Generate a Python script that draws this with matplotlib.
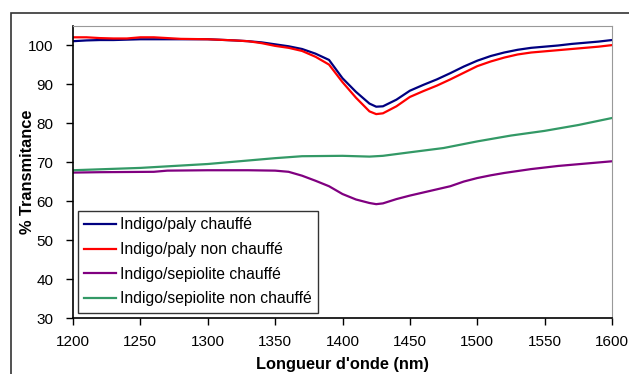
import matplotlib.pyplot as plt
from matplotlib.patches import Rectangle

plt.rcParams["font.family"] = ["Liberation Sans", "DejaVu Sans"]

wl_paly = [1200, 1210, 1220, 1230, 1240, 1250, 1260, 1270, 1280, 1300, 1320, 1330, 1340,
           1350, 1360, 1370, 1380, 1390, 1400, 1410, 1420, 1425, 1430, 1440, 1450, 1460,
           1470, 1480, 1490, 1500, 1510, 1520, 1530, 1540, 1550, 1560, 1570, 1580, 1590, 1600]
paly_chauffe = [101.0, 101.2, 101.3, 101.3, 101.4, 101.5, 101.5, 101.5, 101.5, 101.5, 101.2,
                101.0, 100.7, 100.2, 99.7, 99.0, 97.8, 96.2, 91.5, 88.0, 85.0, 84.2, 84.3,
                86.0, 88.3, 89.8, 91.2, 92.8, 94.5, 96.0, 97.2, 98.1, 98.8, 99.3, 99.6, 99.9,
                100.3, 100.6, 100.9, 101.3]
paly_non_chauffe = [102.0, 102.0, 101.8, 101.7, 101.7, 102.0, 102.0, 101.8, 101.6, 101.5,
                    101.2, 101.0, 100.5, 99.8, 99.3, 98.5, 97.0, 95.0, 90.5, 86.5, 83.0, 82.3,
                    82.5, 84.3, 86.7, 88.2, 89.6, 91.2, 92.9, 94.6, 95.8, 96.8, 97.6, 98.1,
                    98.4, 98.7, 99.0, 99.3, 99.6, 100.0]

wl_sep = [1200, 1220, 1260, 1270, 1300, 1330, 1350, 1360, 1370, 1380, 1390, 1400, 1410,
          1420, 1425, 1430, 1440, 1450, 1460, 1470, 1480, 1490, 1500, 1510, 1520, 1530,
          1540, 1550, 1560, 1570, 1580, 1590, 1600]
sep_chauffe = [67.3, 67.4, 67.5, 67.8, 67.9, 67.9, 67.8, 67.5, 66.5, 65.2, 63.8, 61.8, 60.4,
               59.5, 59.2, 59.4, 60.5, 61.4, 62.2, 63.0, 63.8, 65.0, 65.9, 66.6, 67.2, 67.7,
               68.2, 68.6, 69.0, 69.3, 69.6, 69.9, 70.2]

wl_sep_nc = [1200, 1250, 1300, 1350, 1370, 1400, 1420, 1430, 1450, 1475, 1500, 1525, 1550,
             1575, 1600]
sep_non_chauffe = [67.9, 68.5, 69.5, 71.0, 71.5, 71.6, 71.4, 71.6, 72.5, 73.6, 75.3, 76.8,
                   78.0, 79.5, 81.3]

fig = plt.figure(figsize=(6.29, 3.74), dpi=100)
ax = fig.add_axes([73 / 629, 56 / 374, 539 / 629, 292 / 374])

# chart frame
fig.patches.append(Rectangle((11 / 629, -0.1), 1.2, 1 - 13 / 374 + 0.1, transform=fig.transFigure,
                             fill=False, edgecolor="#333333", linewidth=1.2))

ax.plot(wl_paly, paly_chauffe, color="#000080", lw=1.6, label="Indigo/paly chauffé")
ax.plot(wl_paly, paly_non_chauffe, color="#ff0000", lw=1.6, label="Indigo/paly non chauffé")
ax.plot(wl_sep, sep_chauffe, color="#800080", lw=1.6, label="Indigo/sepiolite chauffé")
ax.plot(wl_sep_nc, sep_non_chauffe, color="#339966", lw=1.6, label="Indigo/sepiolite non chauffé")

ax.set_xlim(1200, 1600)
ax.set_ylim(30, 104.9)
ax.set_xticks(range(1200, 1601, 50))
ax.set_yticks(range(30, 101, 10))
ax.tick_params(direction="out", length=5, width=1, labelsize=11, colors="black")
ax.tick_params(axis="x", pad=7.5)
ax.tick_params(axis="y", pad=9)
for s in ("top", "right"):
    ax.spines[s].set_color("#999999")
for s in ("left", "bottom"):
    ax.spines[s].set_color("black")
    ax.spines[s].set_linewidth(1.2)

ax.set_xlabel("Longueur d'onde (nm)", fontsize=11.8, fontweight="bold")
ax.set_ylabel("% Transmitance", fontsize=11.8, fontweight="bold")
ax.xaxis.set_label_coords(0.5, -0.135)
ax.yaxis.set_label_coords(-0.07, 0.5)

leg = ax.legend(loc="upper left", bbox_to_anchor=(78 / 629, 1 - 211 / 374),
                bbox_transform=fig.transFigure, fontsize=11.3, frameon=True, fancybox=False,
                edgecolor="black", borderpad=0.4, labelspacing=0.62, handlelength=2.0,
                handletextpad=0.3, borderaxespad=0)
leg.get_frame().set_linewidth(1.0)

fig.savefig("out.png", dpi=100)
